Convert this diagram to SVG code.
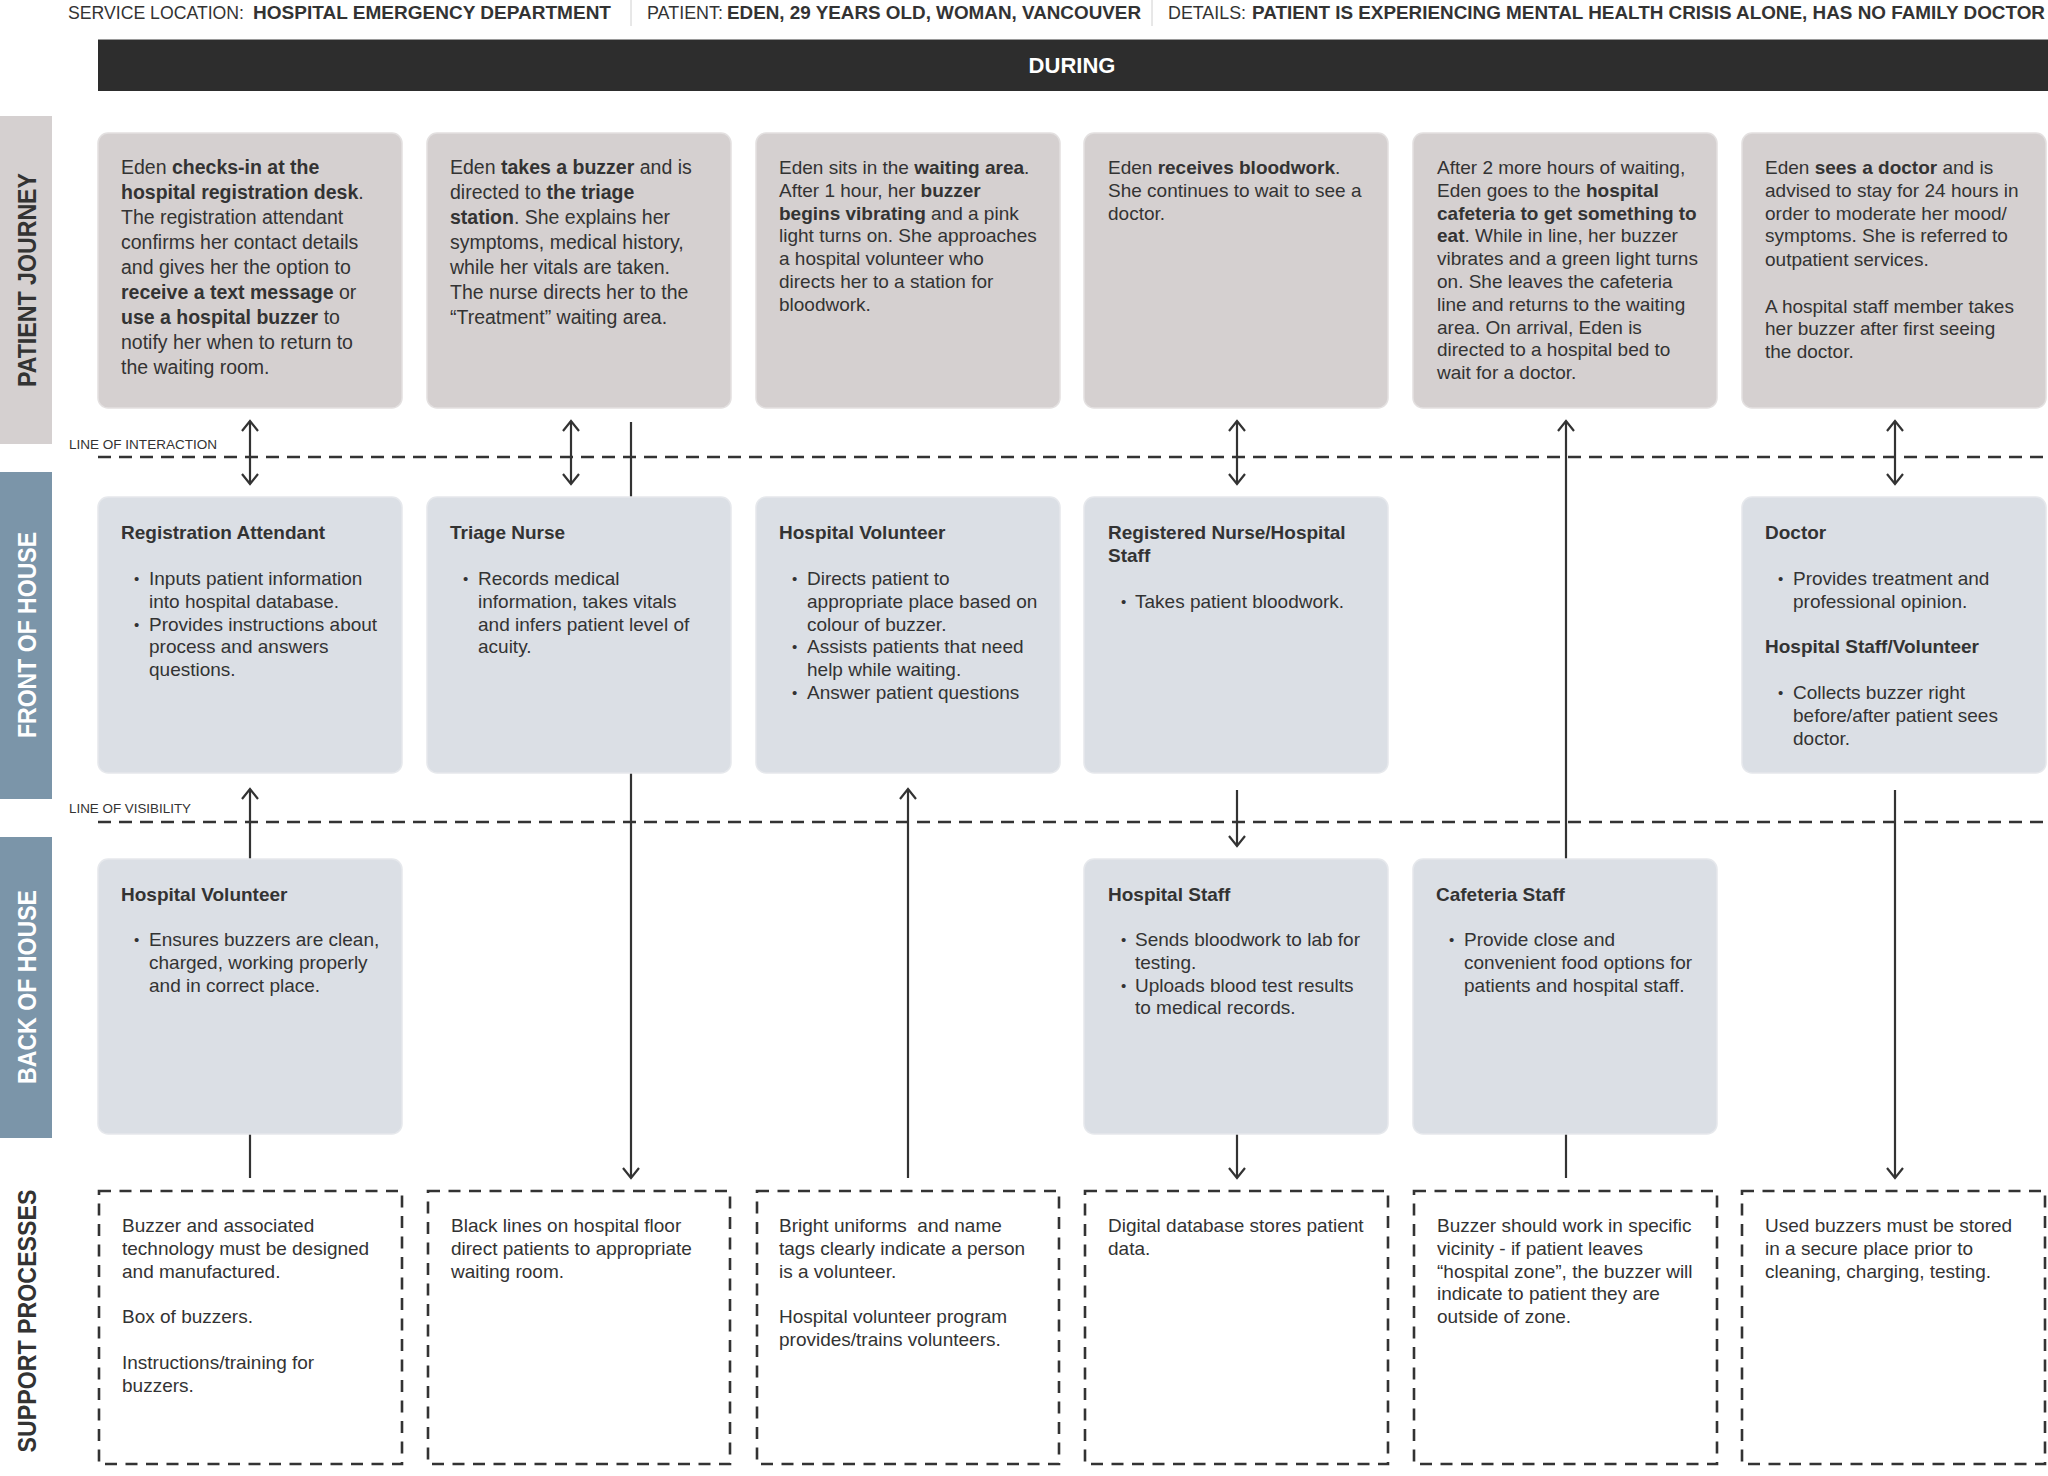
<svg xmlns="http://www.w3.org/2000/svg" width="2048" height="1476" viewBox="0 0 2048 1476">
<defs>
<style>
text{font-family:"Liberation Sans",Arial,Helvetica,sans-serif;fill:#333;}
.hd{font-size:18px;}
.b{font-weight:bold;}
.p1{font-size:19.5px;}
.p{font-size:19px;}
.bu{font-size:15px;}
.lab{font-size:13.5px;}
.lane{font-size:26px;font-weight:bold;}
.pj{fill:#d5d0d0;stroke:#e3e0e0;stroke-width:1.5;}
.fh{fill:#dbdfe5;stroke:#e6e8ec;stroke-width:1.5;}
.sp{fill:none;stroke:#333;stroke-width:2.6;stroke-dasharray:12 8.5;}
.dl{fill:none;stroke:#333;stroke-width:2.5;stroke-dasharray:13 8;}
.cn{fill:none;stroke:#333;stroke-width:2.2;}
.ar{marker-end:url(#arr);}
.dbl{marker-start:url(#arr);marker-end:url(#arr);}
</style>
<marker id="arr" viewBox="-12 -10 14 20" markerWidth="14" markerHeight="20" refX="0" refY="0" orient="auto-start-reverse" markerUnits="userSpaceOnUse" overflow="visible">
<path d="M-10,-8 L0,0 L-10,8" fill="none" stroke="#333" stroke-width="2.2"/>
</marker>
</defs>
<rect x="0" y="0" width="2048" height="1476" fill="#ffffff"/>

<g id="header">
<text class="hd" x="68" y="19" textLength="176" lengthAdjust="spacingAndGlyphs">SERVICE LOCATION:</text>
<text class="hd b" x="253" y="19" textLength="358" lengthAdjust="spacingAndGlyphs">HOSPITAL EMERGENCY DEPARTMENT</text>
<line x1="631" y1="0" x2="631" y2="26" stroke="#d0d0d0" stroke-width="1"/>
<text class="hd" x="647" y="19" textLength="76" lengthAdjust="spacingAndGlyphs">PATIENT:</text>
<text class="hd b" x="727" y="19" textLength="414" lengthAdjust="spacingAndGlyphs">EDEN, 29 YEARS OLD, WOMAN, VANCOUVER</text>
<line x1="1152" y1="0" x2="1152" y2="26" stroke="#d0d0d0" stroke-width="1"/>
<text class="hd" x="1168" y="19" textLength="78" lengthAdjust="spacingAndGlyphs">DETAILS:</text>
<text class="hd b" x="1252" y="19" textLength="793" lengthAdjust="spacingAndGlyphs">PATIENT IS EXPERIENCING MENTAL HEALTH CRISIS ALONE, HAS NO FAMILY DOCTOR</text>
</g>

<g id="phase-during">
<rect x="98" y="39" width="1950" height="52" fill="#2d2d2d"/>
<line x1="98" y1="39.5" x2="2048" y2="39.5" stroke="#9a9a9a" stroke-width="1"/>
<text x="1072" y="73" text-anchor="middle" style="font-size:22px;font-weight:bold;fill:#ffffff">DURING</text>
</g>

<g id="lane-labels">
<rect x="0" y="116" width="52" height="328" fill="#d5d0d0"/>
<text class="lane" transform="translate(36,280) rotate(-90)" text-anchor="middle" textLength="214" lengthAdjust="spacingAndGlyphs">PATIENT JOURNEY</text>
<rect x="0" y="472" width="52" height="327" fill="#7b95a9"/>
<text class="lane" transform="translate(36,635) rotate(-90)" text-anchor="middle" textLength="206" lengthAdjust="spacingAndGlyphs" style="fill:#ffffff">FRONT OF HOUSE</text>
<rect x="0" y="837" width="52" height="301" fill="#7b95a9"/>
<text class="lane" transform="translate(36,987) rotate(-90)" text-anchor="middle" textLength="194" lengthAdjust="spacingAndGlyphs" style="fill:#ffffff">BACK OF HOUSE</text>
<text class="lane" transform="translate(36,1321) rotate(-90)" text-anchor="middle" textLength="263" lengthAdjust="spacingAndGlyphs">SUPPORT PROCESSES</text>
</g>

<g id="boundary-lines">
<path class="dl" d="M98,457 L2048,457"/>
<text class="lab" x="69" y="449" textLength="148" lengthAdjust="spacingAndGlyphs">LINE OF INTERACTION</text>
<path class="dl" d="M98,822 L2048,822"/>
<text class="lab" x="69" y="813" textLength="122" lengthAdjust="spacingAndGlyphs">LINE OF VISIBILITY</text>
</g>

<g id="connectors">
<path class="cn dbl" d="M250,421 L250,484"/>
<path class="cn dbl" d="M571,421 L571,484"/>
<path class="cn" d="M631,422 L631,497"/>
<path class="cn ar" d="M631,773 L631,1178"/>
<path class="cn ar" d="M250,859 L250,789"/>
<path class="cn" d="M250,1134 L250,1178"/>
<path class="cn ar" d="M908,1178 L908,789"/>
<path class="cn dbl" d="M1237,421 L1237,484"/>
<path class="cn ar" d="M1237,790 L1237,846"/>
<path class="cn ar" d="M1237,1134 L1237,1178"/>
<path class="cn ar" d="M1566,859 L1566,421"/>
<path class="cn" d="M1566,1134 L1566,1178"/>
<path class="cn dbl" d="M1895,421 L1895,484"/>
<path class="cn ar" d="M1895,790 L1895,1178"/>
</g>

<g id="pj-1">
<rect class="pj" x="98" y="133" width="304" height="275" rx="10"/>
<text class="p1" x="121" y="174">Eden <tspan class="b">checks-in at the</tspan></text>
<text class="p1" x="121" y="199"><tspan class="b">hospital registration desk</tspan>.</text>
<text class="p1" x="121" y="224">The registration attendant</text>
<text class="p1" x="121" y="249">confirms her contact details</text>
<text class="p1" x="121" y="274">and gives her the option to</text>
<text class="p1" x="121" y="299"><tspan class="b">receive a text message</tspan> or</text>
<text class="p1" x="121" y="324"><tspan class="b">use a hospital buzzer</tspan> to</text>
<text class="p1" x="121" y="349">notify her when to return to</text>
<text class="p1" x="121" y="374">the waiting room.</text>
</g>

<g id="pj-2">
<rect class="pj" x="427" y="133" width="304" height="275" rx="10"/>
<text class="p1" x="450" y="174">Eden <tspan class="b">takes a buzzer</tspan> and is</text>
<text class="p1" x="450" y="199">directed to <tspan class="b">the triage</tspan></text>
<text class="p1" x="450" y="224"><tspan class="b">station</tspan>. She explains her</text>
<text class="p1" x="450" y="249">symptoms, medical history,</text>
<text class="p1" x="450" y="274">while her vitals are taken.</text>
<text class="p1" x="450" y="299">The nurse directs her to the</text>
<text class="p1" x="450" y="324">“Treatment” waiting area.</text>
</g>

<g id="pj-3">
<rect class="pj" x="756" y="133" width="304" height="275" rx="10"/>
<text class="p" x="779" y="174">Eden sits in the <tspan class="b">waiting area</tspan>.</text>
<text class="p" x="779" y="196.8">After 1 hour, her <tspan class="b">buzzer</tspan></text>
<text class="p" x="779" y="219.6"><tspan class="b">begins vibrating</tspan> and a pink</text>
<text class="p" x="779" y="242.4">light turns on. She approaches</text>
<text class="p" x="779" y="265.2">a hospital volunteer who</text>
<text class="p" x="779" y="288">directs her to a station for</text>
<text class="p" x="779" y="310.8">bloodwork.</text>
</g>

<g id="pj-4">
<rect class="pj" x="1084" y="133" width="304" height="275" rx="10"/>
<text class="p" x="1108" y="174">Eden <tspan class="b">receives bloodwork</tspan>.</text>
<text class="p" x="1108" y="196.8">She continues to wait to see a</text>
<text class="p" x="1108" y="219.6">doctor.</text>
</g>

<g id="pj-5">
<rect class="pj" x="1413" y="133" width="304" height="275" rx="10"/>
<text class="p" x="1437" y="174">After 2 more hours of waiting,</text>
<text class="p" x="1437" y="196.8">Eden goes to the <tspan class="b">hospital</tspan></text>
<text class="p" x="1437" y="219.6"><tspan class="b">cafeteria to get something to</tspan></text>
<text class="p" x="1437" y="242.4"><tspan class="b">eat</tspan>. While in line, her buzzer</text>
<text class="p" x="1437" y="265.2">vibrates and a green light turns</text>
<text class="p" x="1437" y="288">on. She leaves the cafeteria</text>
<text class="p" x="1437" y="310.8">line and returns to the waiting</text>
<text class="p" x="1437" y="333.6">area. On arrival, Eden is</text>
<text class="p" x="1437" y="356.4">directed to a hospital bed to</text>
<text class="p" x="1437" y="379.2">wait for a doctor.</text>
</g>

<g id="pj-6">
<rect class="pj" x="1742" y="133" width="304" height="275" rx="10"/>
<text class="p" x="1765" y="174">Eden <tspan class="b">sees a doctor</tspan> and is</text>
<text class="p" x="1765" y="196.8">advised to stay for 24 hours in</text>
<text class="p" x="1765" y="219.6">order to moderate her mood/</text>
<text class="p" x="1765" y="242.4">symptoms. She is referred to</text>
<text class="p" x="1765" y="266">outpatient services.</text>
<text class="p" x="1765" y="312.5">A hospital staff member takes</text>
<text class="p" x="1765" y="335.3">her buzzer after first seeing</text>
<text class="p" x="1765" y="358">the doctor.</text>
</g>

<g id="foh-1">
<rect class="fh" x="98" y="497" width="304" height="276" rx="10"/>
<text class="p b" x="121" y="539">Registration Attendant</text>
<text class="bu" x="134" y="584">•</text><text class="p" x="149" y="585">Inputs patient information</text>
<text class="p" x="149" y="607.8">into hospital database.</text>
<text class="bu" x="134" y="629.6">•</text><text class="p" x="149" y="630.6">Provides instructions about</text>
<text class="p" x="149" y="653.4">process and answers</text>
<text class="p" x="149" y="676.2">questions.</text>
</g>

<g id="foh-2">
<rect class="fh" x="427" y="497" width="304" height="276" rx="10"/>
<text class="p b" x="450" y="539">Triage Nurse</text>
<text class="bu" x="463" y="584">•</text><text class="p" x="478" y="585">Records medical</text>
<text class="p" x="478" y="607.8">information, takes vitals</text>
<text class="p" x="478" y="630.6">and infers patient level of</text>
<text class="p" x="478" y="653.4">acuity.</text>
</g>

<g id="foh-3">
<rect class="fh" x="756" y="497" width="304" height="276" rx="10"/>
<text class="p b" x="779" y="539">Hospital Volunteer</text>
<text class="bu" x="792" y="584">•</text><text class="p" x="807" y="585">Directs patient to</text>
<text class="p" x="807" y="607.8">appropriate place based on</text>
<text class="p" x="807" y="630.6">colour of buzzer.</text>
<text class="bu" x="792" y="652.4">•</text><text class="p" x="807" y="653.4">Assists patients that need</text>
<text class="p" x="807" y="676.2">help while waiting.</text>
<text class="bu" x="792" y="698">•</text><text class="p" x="807" y="699">Answer patient questions</text>
</g>

<g id="foh-4">
<rect class="fh" x="1084" y="497" width="304" height="276" rx="10"/>
<text class="p b" x="1108" y="539">Registered Nurse/Hospital</text>
<text class="p b" x="1108" y="562">Staff</text>
<text class="bu" x="1121" y="606.8">•</text><text class="p" x="1135" y="607.8">Takes patient bloodwork.</text>
</g>

<g id="foh-6">
<rect class="fh" x="1742" y="497" width="304" height="276" rx="10"/>
<text class="p b" x="1765" y="539">Doctor</text>
<text class="bu" x="1778" y="584">•</text><text class="p" x="1793" y="585">Provides treatment and</text>
<text class="p" x="1793" y="607.8">professional opinion.</text>
<text class="p b" x="1765" y="653.4">Hospital Staff/Volunteer</text>
<text class="bu" x="1778" y="698">•</text><text class="p" x="1793" y="699">Collects buzzer right</text>
<text class="p" x="1793" y="721.8">before/after patient sees</text>
<text class="p" x="1793" y="744.6">doctor.</text>
</g>

<g id="boh-1">
<rect class="fh" x="98" y="859" width="304" height="275" rx="10"/>
<text class="p b" x="121" y="901">Hospital Volunteer</text>
<text class="bu" x="134" y="945">•</text><text class="p" x="149" y="946">Ensures buzzers are clean,</text>
<text class="p" x="149" y="968.8">charged, working properly</text>
<text class="p" x="149" y="991.6">and in correct place.</text>
</g>

<g id="boh-4">
<rect class="fh" x="1084" y="859" width="304" height="275" rx="10"/>
<text class="p b" x="1108" y="901">Hospital Staff</text>
<text class="bu" x="1121" y="945">•</text><text class="p" x="1135" y="946">Sends bloodwork to lab for</text>
<text class="p" x="1135" y="968.8">testing.</text>
<text class="bu" x="1121" y="990.6">•</text><text class="p" x="1135" y="991.6">Uploads blood test results</text>
<text class="p" x="1135" y="1014.4">to medical records.</text>
</g>

<g id="boh-5">
<rect class="fh" x="1413" y="859" width="304" height="275" rx="10"/>
<text class="p b" x="1436" y="901">Cafeteria Staff</text>
<text class="bu" x="1449" y="945">•</text><text class="p" x="1464" y="946">Provide close and</text>
<text class="p" x="1464" y="968.8">convenient food options for</text>
<text class="p" x="1464" y="991.6">patients and hospital staff.</text>
</g>

<g id="sp-1">
<rect class="sp" x="99" y="1191" width="303" height="273"/>
<text class="p" x="122" y="1232">Buzzer and associated</text>
<text class="p" x="122" y="1254.8">technology must be designed</text>
<text class="p" x="122" y="1277.6">and manufactured.</text>
<text class="p" x="122" y="1323.2">Box of buzzers.</text>
<text class="p" x="122" y="1368.8">Instructions/training for</text>
<text class="p" x="122" y="1391.6">buzzers.</text>
</g>

<g id="sp-2">
<rect class="sp" x="428" y="1191" width="302" height="273"/>
<text class="p" x="451" y="1232">Black lines on hospital floor</text>
<text class="p" x="451" y="1254.8">direct patients to appropriate</text>
<text class="p" x="451" y="1277.6">waiting room.</text>
</g>

<g id="sp-3">
<rect class="sp" x="757" y="1191" width="302" height="273"/>
<text class="p" x="779" y="1232" xml:space="preserve">Bright uniforms  and name</text>
<text class="p" x="779" y="1254.8">tags clearly indicate a person</text>
<text class="p" x="779" y="1277.6">is a volunteer.</text>
<text class="p" x="779" y="1323.2">Hospital volunteer program</text>
<text class="p" x="779" y="1346">provides/trains volunteers.</text>
</g>

<g id="sp-4">
<rect class="sp" x="1085" y="1191" width="303" height="273"/>
<text class="p" x="1108" y="1232">Digital database stores patient</text>
<text class="p" x="1108" y="1254.8">data.</text>
</g>

<g id="sp-5">
<rect class="sp" x="1414" y="1191" width="303" height="273"/>
<text class="p" x="1437" y="1232">Buzzer should work in specific</text>
<text class="p" x="1437" y="1254.8">vicinity - if patient leaves</text>
<text class="p" x="1437" y="1277.6">“hospital zone”, the buzzer will</text>
<text class="p" x="1437" y="1300.4">indicate to patient they are</text>
<text class="p" x="1437" y="1323.2">outside of zone.</text>
</g>

<g id="sp-6">
<rect class="sp" x="1742" y="1191" width="303" height="273"/>
<text class="p" x="1765" y="1232">Used buzzers must be stored</text>
<text class="p" x="1765" y="1254.8">in a secure place prior to</text>
<text class="p" x="1765" y="1277.6">cleaning, charging, testing.</text>
</g>
</svg>
